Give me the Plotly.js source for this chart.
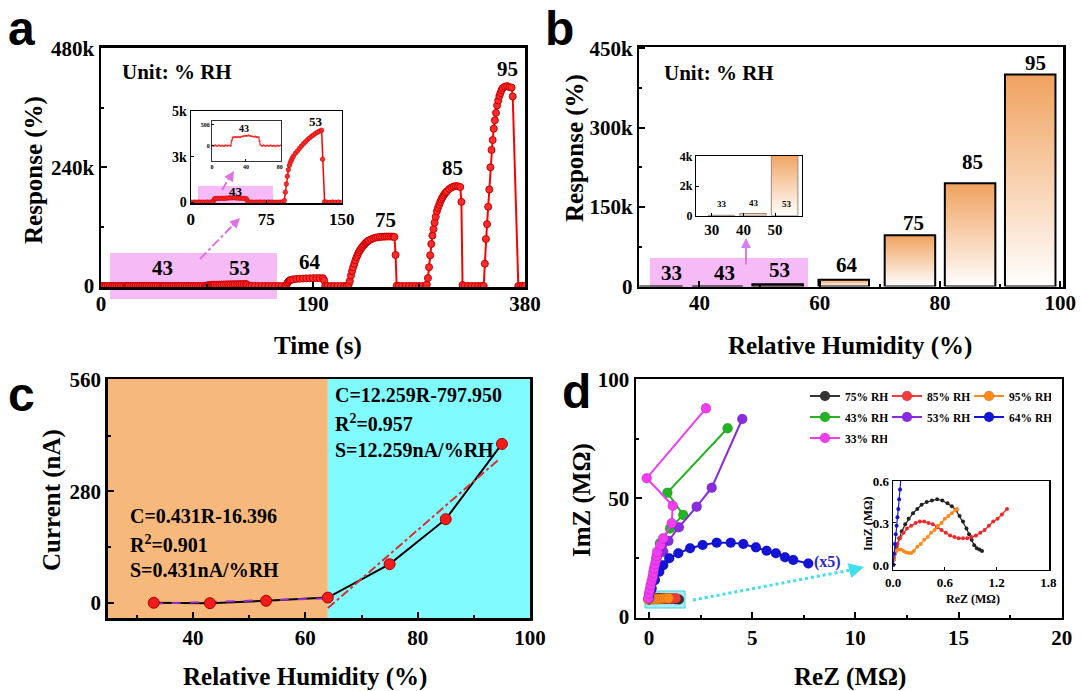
<!DOCTYPE html>
<html>
<head>
<meta charset="utf-8">
<script src="https://cdn.plot.ly/plotly-3.0.1.min.js"></script>
<style>
  html, body { margin: 0; padding: 0; background: #fff; }
  #fig { width: 1081px; height: 691px; }
</style>
</head>
<body>
<div id="fig"></div>
<script>
// ---- (a) dynamic response vs time ----
const timeA = [
  0, 2, 4, 6, 8, 10, 12, 14, 16, 18, 20, 22,
  23, 24, 25, 27, 29, 31, 33, 35, 37, 39, 41, 43, 45, 47, 49, 51, 53, 55, 56, 57,
  59, 61, 63, 65, 67, 69, 71, 73, 75, 77, 79, 81, 83, 85, 87, 89, 91,
  93, 94, 95, 96, 97, 98, 99, 100, 101, 102, 104, 106, 108, 110, 112, 114, 116, 118, 120, 122, 124, 126, 128, 130, 131, 133,
  135, 138, 141, 144, 147, 150, 153, 156, 159, 162, 165,
  166, 167, 168, 169, 170, 172, 175, 178, 181, 184, 187, 190, 193, 196, 199, 200, 201,
  203, 206, 209, 212, 215, 218, 220,
  222, 223, 224, 225, 226, 227, 228, 229, 230, 231, 232, 233, 234, 235, 236, 237, 238, 239, 240, 242, 244, 246, 248, 250, 252, 254, 256, 258, 260, 262, 263, 264, 265,
  267, 270, 273, 276, 279, 282, 285, 288, 291,
  292, 293, 294, 295, 296, 297, 298, 299, 300, 301, 302, 303, 304, 305, 306, 307, 308, 309, 310, 312, 314, 316, 318, 320, 322, 323, 324,
  326, 329, 332, 335, 338, 341, 343,
  344, 345, 346, 347, 348, 349, 350, 351, 352, 353, 354, 355, 356, 357, 358, 359, 360, 362, 364, 366, 368, 369, 374,
  376, 378, 380
];
const respA = [
  5, -10, 8, -6, 12, -8, 4, -12, 10, -4, 6, -2,
  120, 190, 205, 210, 200, 215, 205, 220, 225, 240, 235, 250, 230, 225, 215, 220, 210, 200, 110, 20,
  -5, 8, -10, 4, -8, 10, -6, 5, -12, 6, -4, 8, -8, 3, -5, 7, -3,
  90, 550, 1000, 1420, 1780, 2020, 2180, 2300, 2420, 2520, 2680, 2810, 2950, 3080, 3200, 3310, 3420, 3520, 3610, 3690, 3770, 3840, 3900, 3950, 2360, 20,
  5, -8, 10, -5, 8, -10, 6, -4, 9, -6, 4,
  500, 6000, 9000, 11000, 12300, 13500, 14300, 14800, 15100, 15400, 15600, 15800, 15900, 16000, 15800, 11000, 300,
  20, -30, 40, -20, 30, -10, 10,
  3000, 10000, 21000, 30000, 38000, 45000, 52000, 58000, 63000, 68000, 72000, 75500, 78500, 81500, 84000, 86500, 88500, 90500, 92000, 94300, 96300, 97500, 98500, 99200, 99600, 99800, 100000, 100000, 99900, 99800, 99000, 62700, 500,
  30, -20, 40, -30, 20, -10, 30, -20, 10,
  3000, 16000, 38000, 62000, 85000, 102000, 115000, 128000, 140000, 151000, 158000, 164000, 170000, 175000, 179000, 183000, 186500, 189000, 191500, 196000, 199000, 201000, 202000, 201500, 200000, 170000, 2000,
  20, -30, 40, -20, 30, -10, 10,
  45000, 95000, 125000, 160000, 195000, 240000, 275000, 295000, 318000, 335000, 350000, 365000, 375000, 384000, 390000, 396000, 400000, 403000, 404000, 402000, 401000, 383000, 0,
  10, -20, 0
];

// ---- (b) response vs RH ----
const rhB = [33, 43, 53, 64, 75, 85, 95];
const respB = [30, 150, 4200, 12700, 96800, 195000, 400600];

// ---- (c) current vs RH ----
const rhC = [33, 43, 53, 64, 75, 85, 95];
const curC = [0, -1, 5, 13, 97, 210, 399];
const fitLowX = [33, 64];
const fitLowY = [-2.2, 11.2];
const fitHighX = [64, 94.4];
const fitHighY = [-13.4, 359.3];

// ---- (d) Nyquist plots ----
const d75X = [0, 0.15, 0.3, 0.5, 0.7, 0.9, 1.1, 1.3, 1.45];
const d75Y = [7.3, 7.6, 7.8, 7.9, 7.9, 7.8, 7.6, 7.4, 7.3];
const d85X = [0, 0.15, 0.3, 0.45, 0.6, 0.75, 0.9, 1.05, 1.2, 1.3];
const d85Y = [7.3, 7.5, 7.6, 7.6, 7.5, 7.5, 7.5, 7.6, 7.7, 7.8];
const d95X = [-0.05, 0.05, 0.15, 0.25, 0.35, 0.45, 0.55, 0.65, 0.75, 0.85, 0.95];
const d95Y = [7.3, 7.6, 7.5, 7.4, 7.4, 7.5, 7.6, 7.7, 7.8, 7.8, 7.8];
const d43X = [0.0, 0.06, 0.15, 0.25, 0.35, 0.53, 1.02, 1.66, 0.89, 3.81];
const d43Y = [7.8, 11, 15, 19.5, 24.5, 31, 37.3, 43.0, 52.4, 79.6];
const d53X = [0.0, 0.08, 0.2, 0.35, 0.69, 0.94, 1.45, 2.31, 3.04, 4.52];
const d53Y = [7.8, 11, 15, 20, 27.5, 32, 37.8, 46.5, 54.5, 83.5];
const d64X = [0.0, 0.13, 0.29, 0.5, 0.69, 0.98, 1.42, 1.99, 2.60, 3.28, 3.96, 4.57, 5.18, 5.70, 6.15, 6.59, 6.99, 7.72];
const d64Y = [9.2, 12, 15.5, 19, 21.8, 24.7, 26.8, 28.9, 30.3, 31.3, 31.3, 30.7, 29.3, 27.9, 26.8, 25.1, 24, 22.5];
const d33X = [-0.03, 0.0, 0.04, 0.08, 0.13, 0.18, 0.21, 0.24, 0.29, 0.34, 0.37, 0.40, 0.55, 0.69, 1.10, 1.15, -0.11, 2.76];
const d33Y = [7.8, 9.9, 11.6, 13.4, 15.2, 16.9, 18.7, 20.4, 22.2, 24.0, 25.8, 27.5, 30.3, 33.1, 39.5, 46.9, 58.5, 88.0];

// inset of (d): high humidity, MOhm
const i75X = [0.0, 0.01, 0.02, 0.04, 0.07, 0.10, 0.14, 0.18, 0.23, 0.28, 0.33, 0.39, 0.45, 0.51, 0.57, 0.63, 0.68, 0.73, 0.77, 0.81, 0.85, 0.88, 0.91, 0.94, 0.97, 1.00, 1.03];
const i75Y = [0.0, 0.04, 0.08, 0.13, 0.19, 0.24, 0.29, 0.33, 0.37, 0.40, 0.43, 0.45, 0.46, 0.47, 0.46, 0.44, 0.42, 0.39, 0.35, 0.31, 0.26, 0.22, 0.18, 0.14, 0.12, 0.11, 0.10];
const i85X = [0.0, 0.01, 0.03, 0.05, 0.08, 0.12, 0.16, 0.21, 0.26, 0.31, 0.36, 0.41, 0.46, 0.51, 0.56, 0.61, 0.66, 0.71, 0.76, 0.81, 0.86, 0.91, 0.96, 1.01, 1.06, 1.11, 1.16, 1.21, 1.26, 1.32];
const i85Y = [0.0, 0.05, 0.10, 0.15, 0.19, 0.23, 0.26, 0.28, 0.30, 0.31, 0.31, 0.30, 0.29, 0.27, 0.25, 0.23, 0.21, 0.20, 0.19, 0.19, 0.19, 0.20, 0.21, 0.23, 0.25, 0.28, 0.31, 0.33, 0.36, 0.40];
const i95X = [0.0, 0.01, 0.02, 0.04, 0.06, 0.09, 0.12, 0.15, 0.18, 0.21, 0.24, 0.28, 0.32, 0.36, 0.40, 0.44, 0.48, 0.52, 0.56, 0.60, 0.64, 0.68, 0.72, 0.74];
const i95Y = [0.0, 0.04, 0.08, 0.10, 0.11, 0.11, 0.10, 0.09, 0.085, 0.085, 0.10, 0.13, 0.15, 0.18, 0.20, 0.23, 0.25, 0.28, 0.30, 0.33, 0.35, 0.37, 0.39, 0.40];
const i64X = [0.0, 0.01, 0.02, 0.03, 0.04, 0.05, 0.06, 0.07, 0.08, 0.09];
const i64Y = [0.0, 0.08, 0.15, 0.22, 0.28, 0.34, 0.40, 0.47, 0.54, 0.62];

// ---- helpers ----
const W = 1081, H = 691;
const SERIF = '"Liberation Serif", "Times New Roman", serif';
const SANS = '"Liberation Sans", Arial, sans-serif';
const dx = (a, b) => [a / W, b / W];
const dy = (top, bottom) => [1 - bottom / H, 1 - top / H];
const px = x => x / W;
const py = y => 1 - y / H;
const barW = 8.4;

function bold(size, color) {
  return { family: SERIF, size: size, color: color || 'black', weight: 'bold' };
}

function ax(extra) {
  return Object.assign({
    showline: true, linecolor: 'black', linewidth: 2.5, mirror: true,
    ticks: 'inside', ticklen: 6, tickwidth: 2, tickcolor: 'black',
    showgrid: false, zeroline: false, fixedrange: true,
    tickmode: 'array', tickfont: bold(21)
  }, extra);
}
function minor(dtick, tick0) {
  return { tickmode: 'linear', tick0: tick0 || 0, dtick: dtick, ticks: 'inside', ticklen: 3, tickwidth: 2, tickcolor: 'black', showgrid: false };
}
function inset(extra, size) {
  return ax(Object.assign({ linewidth: 1.2, ticklen: 3, tickwidth: 1, tickfont: bold(size) }, extra));
}

function txt(t, x, y, size, extra) {
  return Object.assign({
    xref: 'paper', yref: 'paper', x: px(x), y: py(y), text: t, showarrow: false,
    xanchor: 'center', yanchor: 'middle', font: bold(size)
  }, extra || {});
}
function letter(t, x, y) {
  return {
    xref: 'paper', yref: 'paper', x: px(x), y: py(y), text: t, showarrow: false,
    xanchor: 'center', yanchor: 'top', font: { family: SANS, size: 48, color: 'black', weight: 'bold' }
  };
}

function barShape(c, v, w) {
  return { x: [c - w / 2, c - w / 2, c + w / 2, c + w / 2, c - w / 2], y: [0, v, v, 0, 0] };
}

const traces = [];

// (a) main, inset, nested inset
traces.push({
  x: timeA, y: respA, xaxis: 'x', yaxis: 'y', mode: 'lines+markers',
  line: { color: '#ff0000', width: 2 },
  marker: { size: 7, color: '#ff2a2a', line: { color: '#c40000', width: 1 } },
  showlegend: false, hoverinfo: 'skip'
});
traces.push({
  x: timeA, y: respA, xaxis: 'x2', yaxis: 'y2', mode: 'lines+markers',
  line: { color: '#ff0000', width: 1.5 },
  marker: { size: 4.5, color: '#ff2a2a', line: { color: '#c40000', width: 0.6 } },
  showlegend: false, hoverinfo: 'skip'
});
traces.push({
  x: timeA, y: respA, xaxis: 'x3', yaxis: 'y3', mode: 'lines+markers',
  line: { color: '#ff0000', width: 1 },
  marker: { size: 2, color: '#ff2a2a' },
  showlegend: false, hoverinfo: 'skip'
});

// (b) gradient bars, main and inset
rhB.forEach((c, i) => {
  const b = barShape(c, respB[i], barW);
  const grad = { type: 'vertical', colorscale: [[0, '#ffffff'], [1, '#f0a25e']] };
  traces.push({
    x: b.x, y: b.y, xaxis: 'x4', yaxis: 'y4', mode: 'lines', fill: 'toself',
    fillcolor: '#f5c095', fillgradient: grad,
    line: { color: 'black', width: 2 }, showlegend: false, hoverinfo: 'skip'
  });
  if (c <= 53) {
    traces.push({
      x: b.x, y: b.y, xaxis: 'x5', yaxis: 'y5', mode: 'lines', fill: 'toself',
      fillcolor: '#f5c095', fillgradient: grad,
      line: { color: '#9a8a80', width: 1 }, showlegend: false, hoverinfo: 'skip'
    });
  }
});

// (c) current vs RH
traces.push({
  x: rhC, y: curC, xaxis: 'x6', yaxis: 'y6', mode: 'lines',
  line: { color: 'black', width: 2 }, showlegend: false, hoverinfo: 'skip'
});
traces.push({
  x: fitLowX, y: fitLowY, xaxis: 'x6', yaxis: 'y6', mode: 'lines',
  line: { color: '#9b30d0', width: 2, dash: 'dash' }, showlegend: false, hoverinfo: 'skip'
});
traces.push({
  x: fitHighX, y: fitHighY, xaxis: 'x6', yaxis: 'y6', mode: 'lines',
  line: { color: '#d83030', width: 2, dash: 'dashdot' }, showlegend: false, hoverinfo: 'skip'
});
traces.push({
  x: rhC, y: curC, xaxis: 'x6', yaxis: 'y6', mode: 'markers',
  marker: { size: 11, color: '#f01c1c', line: { color: '#b00000', width: 1 } },
  showlegend: false, hoverinfo: 'skip'
});

// (d) main Nyquist with three legend rows
const dSeries = [
  { name: '75% RH', x: d75X, y: d75Y, color: '#333333', legend: 'legend' },
  { name: '85% RH', x: d85X, y: d85Y, color: '#f23c3c', legend: 'legend' },
  { name: '95% RH', x: d95X, y: d95Y, color: '#ff8a1c', legend: 'legend' },
  { name: '43% RH', x: d43X, y: d43Y, color: '#22b422', legend: 'legend2' },
  { name: '53% RH', x: d53X, y: d53Y, color: '#8a2be2', legend: 'legend2' },
  { name: '64% RH', x: d64X, y: d64Y, color: '#1414d8', legend: 'legend2' },
  { name: '33% RH', x: d33X, y: d33Y, color: '#f23cf2', legend: 'legend3' }
];
dSeries.forEach(s => {
  traces.push({
    x: s.x, y: s.y, name: s.name, legend: s.legend, xaxis: 'x7', yaxis: 'y7',
    mode: 'lines+markers', line: { color: s.color, width: 2 },
    marker: { size: 10, color: s.color, line: { color: 'rgba(0,0,0,0.25)', width: 0.5 } },
    hoverinfo: 'skip'
  });
});

// (d) inset
const insetSeries = [
  { x: i75X, y: i75Y, color: '#222222' },
  { x: i85X, y: i85Y, color: '#f02828' },
  { x: i95X, y: i95Y, color: '#ff8a1c' },
  { x: i64X, y: i64Y, color: '#1414d8' }
];
insetSeries.forEach(s => {
  traces.push({
    x: s.x, y: s.y, xaxis: 'x8', yaxis: 'y8', mode: 'lines+markers',
    line: { color: s.color, width: 1.2 }, marker: { size: 4, color: s.color },
    showlegend: false, hoverinfo: 'skip'
  });
});

const pink = 'rgba(238,130,238,0.55)';
const shapes = [
  // (a) highlight boxes
  { type: 'rect', xref: 'paper', yref: 'paper', x0: px(110), x1: px(277), y0: py(299), y1: py(253), fillcolor: pink, line: { width: 0 }, layer: 'below' },
  { type: 'rect', xref: 'paper', yref: 'paper', x0: px(198), x1: px(273), y0: py(204), y1: py(186), fillcolor: pink, line: { width: 0 }, layer: 'below' },
  { type: 'line', xref: 'paper', yref: 'paper', x0: px(200), y0: py(259), x1: px(236), y1: py(222), line: { color: '#e070e8', width: 2, dash: 'dashdot' } },
  { type: 'line', xref: 'paper', yref: 'paper', x0: px(222), y0: py(190), x1: px(231), y1: py(175), line: { color: '#e070e8', width: 2, dash: 'dashdot' } },
  // (b) highlight box
  { type: 'rect', xref: 'paper', yref: 'paper', x0: px(650), x1: px(808), y0: py(287), y1: py(258), fillcolor: pink, line: { width: 0 }, layer: 'below' },
  // (c) humidity regions
  { type: 'rect', xref: 'x6', yref: 'y6 domain', x0: 24.8, x1: 64, y0: 0, y1: 1, fillcolor: '#f7b87c', line: { width: 0 }, layer: 'below' },
  { type: 'rect', xref: 'x6', yref: 'y6 domain', x0: 64, x1: 100, y0: 0, y1: 1, fillcolor: '#80fbff', line: { width: 0 }, layer: 'below' },
  // (d) zoom box and dotted arrow
  { type: 'rect', xref: 'paper', yref: 'paper', x0: px(645), x1: px(685), y0: py(608), y1: py(591), fillcolor: 'rgba(60,215,235,0.45)', line: { color: '#40d0e0', width: 1 }, layer: 'below' },
  { type: 'line', xref: 'paper', yref: 'paper', x0: px(693), y0: py(600), x1: px(856), y1: py(569), line: { color: '#40e0ee', width: 3, dash: 'dot' } }
];

const annotations = [
  // panel letters
  letter('a', 21, 0),
  letter('b', 559, 0),
  letter('c', 21, 366),
  letter('d', 576, 363),
  // axis titles
  txt('Response (%)', 34, 170, 25, { textangle: -90 }),
  txt('Time (s)', 318, 346, 25),
  txt('Response (%)', 575, 148, 25, { textangle: -90 }),
  txt('Relative Humidity (%)', 850, 346, 25),
  txt('Current (nA)', 52, 500, 25, { textangle: -90 }),
  txt('Relative Humidity (%)', 305, 677, 25),
  txt('ImZ (MΩ)', 582, 500, 25, { textangle: -90 }),
  txt('ReZ (MΩ)', 850, 677, 25),
  // (a) labels
  txt('Unit: % RH', 120, 72, 21, { xanchor: 'left' }),
  txt('95', 507, 69, 21),
  txt('85', 452, 168, 21),
  txt('75', 385, 220, 21),
  txt('64', 310, 262, 21),
  txt('43', 162, 268, 21),
  txt('53', 239, 268, 21),
  txt('53', 316, 121, 13),
  txt('43', 236, 191, 13),
  txt('43', 244, 129, 10),
  { xref: 'paper', yref: 'paper', x: px(240), y: py(218), ax: -9, ay: 9, text: '', showarrow: true, arrowhead: 2, arrowsize: 1, arrowwidth: 2, arrowcolor: '#e070e8' },
  { xref: 'paper', yref: 'paper', x: px(234), y: py(171), ax: -5, ay: 8, text: '', showarrow: true, arrowhead: 2, arrowsize: 1, arrowwidth: 2, arrowcolor: '#e070e8' },
  // (b) labels
  txt('Unit: % RH', 662, 73, 21, { xanchor: 'left' }),
  txt('95', 1035, 63, 21),
  txt('85', 972, 162, 21),
  txt('75', 913, 223, 21),
  txt('64', 847, 265, 21),
  txt('33', 671, 273, 21),
  txt('43', 724, 273, 21),
  txt('53', 779, 270, 21),
  txt('33', 722, 204, 9),
  txt('43', 754, 203, 9),
  txt('53', 787, 204, 9),
  { xref: 'paper', yref: 'paper', x: px(746), y: py(238), ax: 0, ay: 28, text: '', showarrow: true, arrowhead: 2, arrowsize: 1, arrowwidth: 2, arrowcolor: '#d080f0' },
  // (c) fitted equations
  txt('C=12.259R-797.950', 333, 395, 20, { xanchor: 'left' }),
  txt('R<sup>2</sup>=0.957', 333, 423, 20, { xanchor: 'left' }),
  txt('S=12.259nA/%RH', 333, 450, 20, { xanchor: 'left' }),
  txt('C=0.431R-16.396', 128, 516, 20, { xanchor: 'left' }),
  txt('R<sup>2</sup>=0.901', 128, 544, 20, { xanchor: 'left' }),
  txt('S=0.431nA/%RH', 128, 570, 20, { xanchor: 'left' }),
  // (d) labels
  txt('(x5)', 827, 562, 16, { font: bold(16, '#2a2ad0') }),
  txt('ReZ (MΩ)', 973, 599, 12),
  txt('ImZ (MΩ)', 868, 524, 12, { textangle: -90 }),
  { xref: 'paper', yref: 'paper', x: px(864), y: py(567), ax: -12, ay: 3, text: '', showarrow: true, arrowhead: 2, arrowsize: 1, arrowwidth: 3, arrowcolor: '#40e0ee' }
];

function legendRow(y) {
  return {
    x: px(805), y: py(y), xanchor: 'left', yanchor: 'middle', orientation: 'h',
    bgcolor: 'rgba(0,0,0,0)', borderwidth: 0, font: bold(11.5),
    itemwidth: 30, entrywidth: 37, entrywidthmode: 'pixels', tracegroupgap: 0
  };
}

const layout = {
  width: W, height: H,
  margin: { l: 0, r: 0, t: 0, b: 0 },
  paper_bgcolor: 'white', plot_bgcolor: 'rgba(0,0,0,0)',
  showlegend: true,
  legend: legendRow(396),
  legend2: legendRow(417),
  legend3: legendRow(438),
  // (a)
  xaxis: ax({ domain: dx(101, 525), range: [0, 380], tickvals: [0, 190, 380], anchor: 'y', minor: minor(95), ticklabelstandoff: -4 }),
  yaxis: ax({ domain: dy(47.5, 287), range: [-2000, 482000], tickvals: [0, 240000, 480000], ticktext: ['0', '240k', '480k'], anchor: 'x', minor: minor(120000) }),
  xaxis2: inset({ domain: dx(190.7, 341.7), range: [0, 150], tickvals: [0, 75, 150], anchor: 'y2' }, 17),
  yaxis2: inset({ domain: dy(111, 203.3), range: [-60, 5000], tickvals: [0, 2500, 5000], ticktext: ['0', '3k', '5k'], anchor: 'x2' }, 14),
  xaxis3: inset({ domain: dx(211.7, 280.7), range: [-0.5, 81], tickvals: [0, 40, 80], anchor: 'y3', linewidth: 0.8, ticklen: 2 }, 6),
  yaxis3: inset({ domain: dy(120.7, 160.7), range: [-360, 600], tickvals: [0, 500], anchor: 'x3', linewidth: 0.8, ticklen: 2 }, 6),
  // (b)
  xaxis4: ax({ domain: dx(639.3, 1063.3), range: [30, 100.5], tickvals: [40, 60, 80, 100], anchor: 'y4', minor: minor(10), ticklabelstandoff: -4 }),
  yaxis4: ax({ domain: dy(47.3, 286.5), range: [0, 452000], tickvals: [0, 150000, 300000, 450000], ticktext: ['0', '150k', '300k', '450k'], anchor: 'x4', minor: minor(75000) }),
  xaxis5: inset({ domain: dx(696, 801.7), range: [25, 58.4], tickvals: [30, 40, 50], anchor: 'y5' }, 15),
  yaxis5: inset({ domain: dy(156, 215.7), range: [0, 4020], tickvals: [0, 2000, 4000], ticktext: ['0', '2k', '4k'], anchor: 'x5' }, 12),
  // (c)
  xaxis6: ax({ domain: dx(107.7, 530), range: [24.8, 100], tickvals: [40, 60, 80, 100], anchor: 'y6', minor: minor(10), ticklabelstandoff: -1 }),
  yaxis6: ax({ domain: dy(379, 618.3), range: [-39, 562], tickvals: [0, 280, 560], anchor: 'x6', minor: minor(140) }),
  // (d)
  xaxis7: ax({ domain: dx(636, 1061.7), range: [-0.63, 20], tickvals: [0, 5, 10, 15, 20], anchor: 'y7', minor: minor(2.5), ticklabelstandoff: 0 }),
  yaxis7: ax({ domain: dy(379, 617.7), range: [-0.4, 100.4], tickvals: [0, 50, 100], anchor: 'x7', minor: minor(25) }),
  xaxis8: inset({ domain: dx(892.7, 1049.3), range: [-0.005, 1.81], tickvals: [0, 0.6, 1.2, 1.8], ticktext: ['0.0', '0.6', '1.2', '1.8'], anchor: 'y8' }, 13),
  yaxis8: inset({ domain: dy(480.7, 570), range: [-0.036, 0.602], tickvals: [0, 0.3, 0.6], ticktext: ['0.0', '0.3', '0.6'], anchor: 'x8' }, 13),
  shapes: shapes,
  annotations: annotations
};

Plotly.newPlot('fig', traces, layout, { staticPlot: true, displayModeBar: false });
</script>
</body>
</html>
